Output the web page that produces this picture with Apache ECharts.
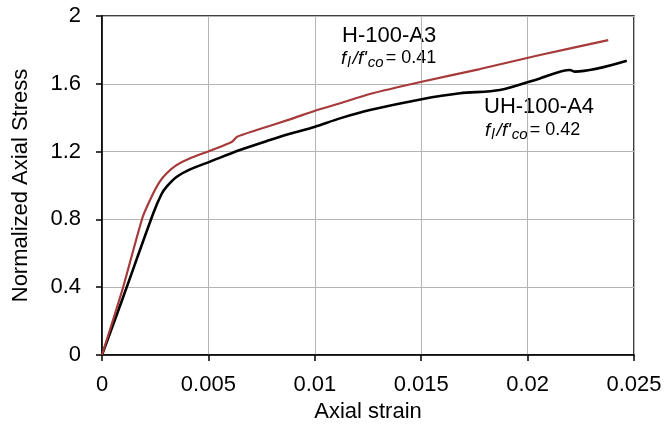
<!DOCTYPE html>
<html>
<head>
<meta charset="utf-8">
<script src="https://cdn.jsdelivr.net/npm/echarts@6/dist/echarts.min.js"></script>
<style>
  html, body { margin: 0; padding: 0; background: #fff; }
  #chart { width: 665px; height: 430px; }
</style>
</head>
<body>
<div id="chart"></div>
<script>
// Specimen H-100-A3
const strainH = [0, 0.001, 0.0019, 0.00233, 0.0027, 0.00304, 0.0035, 0.00414, 0.00508, 0.00602, 0.00615, 0.00635, 0.00727, 0.00883, 0.01001, 0.01118, 0.01259, 0.01502, 0.01776, 0.02058, 0.02379];
const stressH = [0, 0.403, 0.81, 0.934, 1.02, 1.072, 1.12, 1.161, 1.205, 1.252, 1.262, 1.288, 1.327, 1.390, 1.441, 1.485, 1.540, 1.612, 1.687, 1.770, 1.858];

// Specimen UH-100-A4
const strainU = [0, 0.001, 0.00241, 0.0028, 0.00304, 0.0035, 0.00414, 0.00508, 0.00648, 0.00789, 0.00883, 0.01001, 0.01118, 0.01259, 0.01502, 0.01682, 0.0187, 0.02058, 0.02199, 0.02223, 0.02466];
const stressU = [0, 0.344, 0.836, 0.95, 0.993, 1.05, 1.095, 1.141, 1.209, 1.268, 1.305, 1.347, 1.396, 1.445, 1.509, 1.544, 1.563, 1.632, 1.681, 1.672, 1.736];

const xTicks = [0, 0.005, 0.01, 0.015, 0.02, 0.025];
const yTicks = [0, 0.4, 0.8, 1.2, 1.6, 2];

const pairs = (xs, ys) => xs.map((x, i) => [x, ys[i]]);

const FONT = '"Liberation Sans", Arial, sans-serif';
const chart = echarts.init(document.getElementById('chart'));

// Confinement ratio label: f_l / f'_co with italic symbols and subscripts
const ratioStyles = {
  i: { fontFamily: FONT, fontSize: 19, fontStyle: 'italic', color: '#000' },
  s: { fontFamily: FONT, fontSize: 15, fontStyle: 'italic', color: '#000', verticalAlign: 'bottom', padding: [8, 2, 0, 1] },
  n: { fontFamily: FONT, fontSize: 18, color: '#000' }
};

chart.setOption({
  animation: false,
  backgroundColor: '#fff',
  grid: { left: 102, top: 16, right: 31, bottom: 75, show: true, borderColor: '#000', borderWidth: 1.5 },
  xAxis: {
    type: 'value',
    min: xTicks[0], max: xTicks[xTicks.length - 1], interval: 0.005,
    name: 'Axial strain', nameLocation: 'middle', nameGap: 42,
    nameTextStyle: { fontFamily: FONT, fontSize: 22, color: '#000' },
    axisLine: { lineStyle: { color: '#000', width: 1.5 } },
    axisTick: { show: true, length: 6, lineStyle: { color: '#000', width: 1.5 } },
    axisLabel: { margin: 19, fontFamily: FONT, fontSize: 22, color: '#000' },
    splitLine: { lineStyle: { color: '#b4b4b4', width: 1 } }
  },
  yAxis: {
    type: 'value',
    min: yTicks[0], max: yTicks[yTicks.length - 1], interval: 0.4,
    name: 'Normalized Axial Stress', nameLocation: 'middle', nameGap: 70,
    nameTextStyle: { fontFamily: FONT, fontSize: 22, color: '#000' },
    axisLine: { show: true, lineStyle: { color: '#000', width: 1.5 } },
    axisTick: { show: true, length: 6, lineStyle: { color: '#000', width: 1.5 } },
    axisLabel: { margin: 21, fontFamily: FONT, fontSize: 22, color: '#000' },
    splitLine: { lineStyle: { color: '#b4b4b4', width: 1 } }
  },
  series: [
    {
      name: 'UH-100-A4', type: 'line', showSymbol: false, smooth: 0.3,
      data: pairs(strainU, stressU),
      lineStyle: { color: '#000', width: 2.6 }, z: 3
    },
    {
      name: 'H-100-A3', type: 'line', showSymbol: false, smooth: 0.2,
      data: pairs(strainH, stressH),
      lineStyle: { color: '#a63a3a', width: 2.2 }, z: 4
    }
  ],
  graphic: [
    { type: 'text', left: 342, top: 25, style: { text: 'H-100-A3', fontFamily: FONT, fontSize: 22, fill: '#000' } },
    { type: 'text', left: 341, top: 49, style: {
        text: '{i|f}{s|l}{i|/f\'}{s|co}{n|= 0.41}', rich: ratioStyles } },
    { type: 'text', left: 484, top: 96, style: { text: 'UH-100-A4', fontFamily: FONT, fontSize: 22, fill: '#000' } },
    { type: 'text', left: 485, top: 121, style: {
        text: '{i|f}{s|l}{i|/f\'}{s|co}{n|= 0.42}', rich: ratioStyles } }
  ]
});
</script>
</body>
</html>
